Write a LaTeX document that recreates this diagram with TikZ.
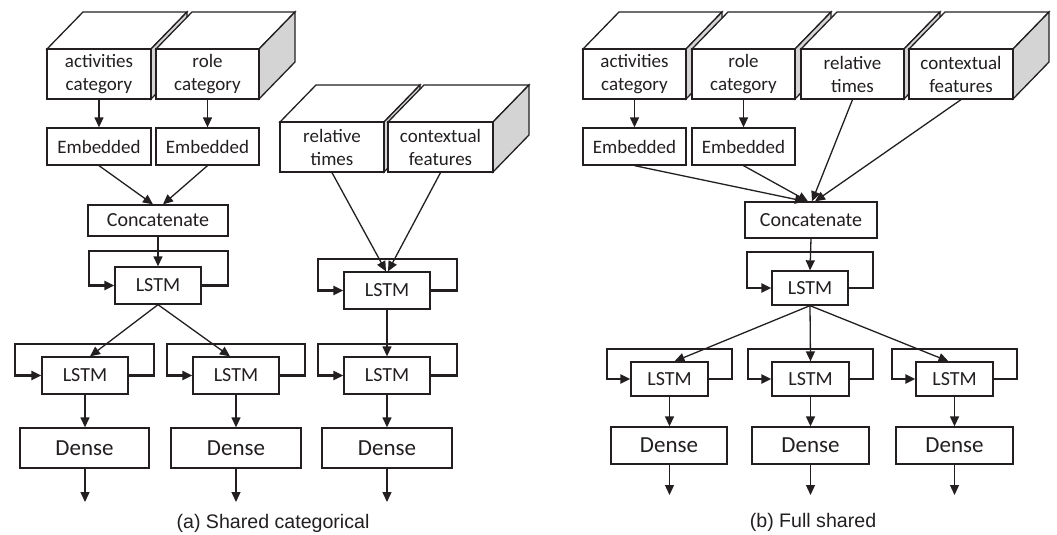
\documentclass[tikz,border=0pt]{standalone}
\usepackage{fontspec}
\setmainfont{Carlito}
\newfontfamily\capfont{Liberation Sans}
\usetikzlibrary{arrows.meta}
\definecolor{sidegray}{RGB}{212,212,212}
\definecolor{ink}{RGB}{35,31,32}
\tikzset{
  box/.style={draw=ink, line width=1.3pt, fill=white, inner sep=0pt, align=center, text=ink},
  conn/.style={draw=ink, line width=1.3pt, -{Triangle[length=10pt,width=9pt]}},
  loopline/.style={draw=ink, line width=2.3pt, line join=miter, -{Triangle[length=10pt,width=9pt]}},
  face/.style={draw=ink, line width=1.3pt, line join=miter},
  fcube/.style={font=\fontsize{19}{23}\selectfont},
  femb/.style={font=\fontsize{19}{22}\selectfont},
  flstm/.style={font=\fontsize{20}{22}\selectfont},
  fdense/.style={font=\fontsize{23}{25}\selectfont},
  capt/.style={font=\capfont\fontsize{19.6}{22}\selectfont, text=ink},
}
% name, x1, y1, x2, y2, text
\newcommand{\cuboid}[6]{%
  \draw[face, fill=white] (#2,#3) -- (#2+36,#3-37) -- (#4+36,#3-37) -- (#4,#3) -- cycle;
  \draw[face, fill=sidegray] (#4,#3) -- (#4+36,#3-37) -- (#4+36,#5-37) -- (#4,#5) -- cycle;
  \node[box, fcube, minimum width={#4-#2}, minimum height={#5-#3}] (#1) at ({(#2+#4)/2},{(#3+#5)/2}) {#6};%
}
% name, x1, y1, x2, y2, style, text
\newcommand{\rbox}[7]{%
  \node[box, #6, minimum width={#4-#2}, minimum height={#5-#3}] (#1) at ({(#2+#4)/2},{(#3+#5)/2}) {#7};%
}
% name, left, right, top
\newcommand{\lstmloop}[4]{%
  \draw[loopline] (#1.east) -| (#3,#4) -- (#2,#4) |- (#1.west);%
}
\begin{document}
\begin{tikzpicture}[x=1pt,y=-1pt]
\useasboundingbox (0,0) rectangle (1057,535);

% ---------------- panel (a) ----------------
\cuboid{aact}{47}{49}{151}{99}{activities\\category}
\cuboid{arole}{156}{49}{259}{99}{role\\category}
\cuboid{arel}{280}{122}{384}{172}{relative\\times}
\cuboid{actx}{388}{122}{493}{172}{contextual\\features}

\rbox{aemb1}{47}{128}{151}{165}{femb}{Embedded}
\rbox{aemb2}{156}{128}{259}{165}{femb}{Embedded}
\rbox{aconc}{88}{205}{228}{236}{flstm}{Concatenate}
\rbox{al1}{115}{267}{201}{304}{flstm}{LSTM}
\rbox{al2}{42}{357}{128}{394}{flstm}{LSTM}
\rbox{al3}{193}{357}{279}{394}{flstm}{LSTM}
\rbox{ar1}{344}{272}{430}{309}{flstm}{LSTM}
\rbox{ar2}{344}{357}{430}{394}{flstm}{LSTM}
\rbox{ad1}{20}{428}{149}{468}{fdense}{Dense}
\rbox{ad2}{171}{428}{301}{468}{fdense}{Dense}
\rbox{ad3}{322}{428}{452}{468}{fdense}{Dense}

\lstmloop{al1}{89}{228}{251}
\lstmloop{al2}{15}{154}{344}
\lstmloop{al3}{167}{305}{344}
\lstmloop{ar1}{318}{457}{259}
\lstmloop{ar2}{318}{457}{344}

\draw[conn] (aact.south) -- (aemb1.north);
\draw[conn] (arole.south) -- (aemb2.north);
\draw[conn] (aemb1.south) -- ([xshift=-5pt]aconc.north);
\draw[conn] (aemb2.south) -- ([xshift=5pt]aconc.north);
\draw[conn] (aconc.south) -- (al1.north);
\draw[conn] (al1.south) -- ([xshift=5pt]al2.north);
\draw[conn] (al1.south) -- ([xshift=-6pt]al3.north);
\draw[conn] (arel.south) -- ([xshift=-1pt]ar1.north);
\draw[conn] (actx.south) -- ([xshift=1pt]ar1.north);
\draw[conn] (ar1.south) -- (ar2.north);
\draw[conn] (al2.south) -- (ad1.north -| al2.south);
\draw[conn] (al3.south) -- (ad2.north -| al3.south);
\draw[conn] (ar2.south) -- (ad3.north -| ar2.south);
\coordinate (ao1) at (85,502);
\coordinate (ao2) at (236,502);
\coordinate (ao3) at (387,502);
\draw[conn] (ad1.south -| ao1) -- (ao1);
\draw[conn] (ad2.south -| ao2) -- (ao2);
\draw[conn] (ad3.south -| ao3) -- (ao3);
\node[capt] (acap) at (273,523) {(a) Shared categorical};

% ---------------- panel (b) ----------------
\cuboid{bact}{583}{49}{686}{99}{activities\\category}
\cuboid{brole}{692}{49}{795}{99}{role\\category}
\cuboid{brel}{801}{49}{904}{99}{relative\\times}
\cuboid{bctx}{909}{49}{1013}{99}{contextual\\features}

\rbox{bemb1}{583}{128}{686}{165}{femb}{Embedded}
\rbox{bemb2}{692}{128}{795}{165}{femb}{Embedded}
\rbox{bconc}{745}{202}{877}{238}{flstm}{Concatenate}
\rbox{bl1}{772}{271}{848}{305}{flstm}{LSTM}
\rbox{bl2}{631}{362}{708}{396}{flstm}{LSTM}
\rbox{bl3}{772}{362}{849}{396}{flstm}{LSTM}
\rbox{bl4}{916}{362}{993}{396}{flstm}{LSTM}
\rbox{bd1}{611}{427}{727}{464}{fdense}{Dense}
\rbox{bd2}{752}{427}{869}{464}{fdense}{Dense}
\rbox{bd3}{896}{427}{1013}{464}{fdense}{Dense}

\lstmloop{bl1}{747}{873}{252}
\lstmloop{bl2}{607}{732}{349}
\lstmloop{bl3}{748}{873}{349}
\lstmloop{bl4}{892}{1017}{349}

\draw[conn] (bact.south) -- (bemb1.north);
\draw[conn] (brole.south) -- (bemb2.north);
\draw[conn] (bemb1.south) -- ([xshift=-6pt]bconc.north);
\draw[conn] (bemb2.south) -- ([xshift=-3pt]bconc.north);
\draw[conn] (brel.south) -- ([xshift=1pt]bconc.north);
\draw[conn] (bctx.south) -- ([xshift=4pt]bconc.north);
\draw[conn] (bconc.south) -- (bl1.north);
\draw[conn] (bl1.south) -- ([xshift=5pt]bl2.north);
\draw[conn] (bl1.south) -- (bl3.north);
\draw[conn] (bl1.south) -- ([xshift=-6pt]bl4.north);
\draw[conn] (bl2.south) -- (bd1.north -| bl2.south);
\draw[conn] (bl3.south) -- (bd2.north -| bl3.south);
\draw[conn] (bl4.south) -- (bd3.north -| bl4.south);
\coordinate (bo1) at (669.5,495);
\coordinate (bo2) at (810.5,495);
\coordinate (bo3) at (954.5,495);
\draw[conn] (bd1.south -| bo1) -- (bo1);
\draw[conn] (bd2.south -| bo2) -- (bo2);
\draw[conn] (bd3.south -| bo3) -- (bo3);
\node[capt] (bcap) at (813,522) {(b) Full shared};
\end{tikzpicture}
\end{document}
